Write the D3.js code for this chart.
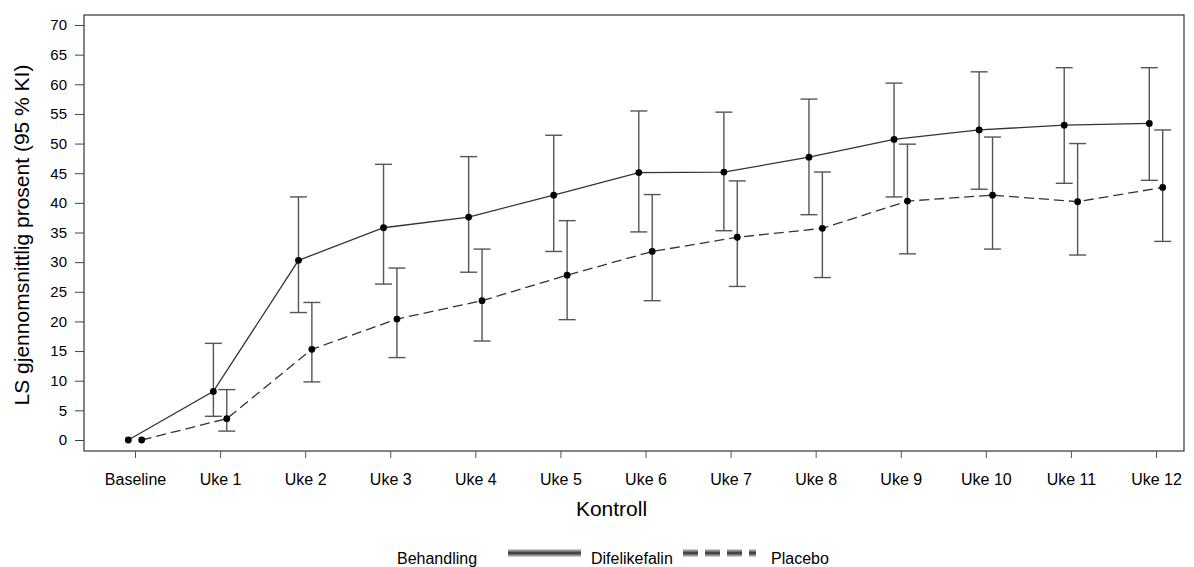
<!DOCTYPE html>
<html>
<head>
<meta charset="utf-8">
<script src="https://cdn.jsdelivr.net/npm/d3@7"></script>
<style>
  body { margin: 0; background: #fff; }
  text { font-family: "Liberation Sans", Arial, sans-serif; fill: #000; }
</style>
</head>
<body>
<svg class="chart"></svg>
<script>
let width = 1194, height = 567;

// visits on x axis
let visits = ["Baseline", "Uke 1", "Uke 2", "Uke 3", "Uke 4", "Uke 5", "Uke 6",
  "Uke 7", "Uke 8", "Uke 9", "Uke 10", "Uke 11", "Uke 12"];
let yTicks = [0, 5, 10, 15, 20, 25, 30, 35, 40, 45, 50, 55, 60, 65, 70];

// Difelikefalin: LS mean with 95 % CI
let difMean = [0, 8.2, 30.3, 35.8, 37.6, 41.3, 45.1, 45.2, 47.7, 50.7, 52.3, 53.1, 53.4];
let difLow  = [null, 4.0, 21.5, 26.3, 28.3, 31.8, 35.1, 35.3, 38.0, 41.0, 42.3, 43.3, 43.8];
let difHigh = [null, 16.3, 41.0, 46.5, 47.8, 51.4, 55.5, 55.3, 57.5, 60.2, 62.1, 62.8, 62.8];

// Placebo
let plaMean = [0, 3.6, 15.3, 20.4, 23.5, 27.8, 31.8, 34.2, 35.7, 40.3, 41.3, 40.2, 42.6];
let plaLow  = [null, 1.5, 9.8, 13.9, 16.7, 20.3, 23.5, 25.9, 27.4, 31.4, 32.2, 31.2, 33.5];
let plaHigh = [null, 8.5, 23.2, 29.0, 32.2, 37.0, 41.4, 43.7, 45.2, 49.9, 51.1, 50.0, 52.3];

let groups = [
  { name: "Difelikefalin", mean: difMean, low: difLow, high: difHigh, shift: -6.7, dash: null },
  { name: "Placebo", mean: plaMean, low: plaLow, high: plaHigh, shift: 6.7, dash: "10,5" }
];

let frame = { left: 84, right: 1184, top: 15, bottom: 451 };

let svg = d3.select(".chart").attr("width", width).attr("height", height);

let x = d3.scalePoint().domain(visits).range([135, 1156]);
let y = d3.scaleLinear().domain([0, 70]).range([440, 25]);

// frame
svg.append("rect")
  .attr("x", frame.left).attr("y", frame.top)
  .attr("width", frame.right - frame.left).attr("height", frame.bottom - frame.top)
  .attr("fill", "none").attr("stroke", "#333").attr("stroke-width", 1.2);

// y axis
let yAxis = svg.append("g")
  .attr("transform", "translate(" + frame.left + ",0)")
  .call(d3.axisLeft(y).tickValues(yTicks).tickSize(9).tickPadding(8));
yAxis.select(".domain").remove();
yAxis.selectAll("line").attr("stroke", "#444");
yAxis.selectAll("text").style("font-size", "15px").style("font-family", "Liberation Sans, Arial, sans-serif");

// x axis
let xAxis = svg.append("g")
  .attr("transform", "translate(0," + frame.bottom + ")")
  .call(d3.axisBottom(x).tickSize(7).tickPadding(16));
xAxis.select(".domain").remove();
xAxis.selectAll("line").attr("stroke", "#555");
xAxis.selectAll("text").style("font-size", "16px").style("font-family", "Liberation Sans, Arial, sans-serif");

// axis titles
svg.append("text")
  .attr("transform", "translate(29,235) rotate(-90)")
  .attr("text-anchor", "middle")
  .style("font-size", "21px")
  .text("LS gjennomsnittlig prosent (95 % KI)");

svg.append("text")
  .attr("x", 611.5).attr("y", 516)
  .attr("text-anchor", "middle")
  .style("font-size", "21px")
  .text("Kontroll");

// series
groups.forEach(g => {
  let pts = visits.map((v, i) => ({ v: v, m: g.mean[i], lo: g.low[i], hi: g.high[i] }));
  let px = d => x(d.v) + g.shift;

  let bars = pts.filter(d => d.lo != null);
  let eb = svg.append("g").attr("stroke", "#555").attr("stroke-width", 1.4);
  eb.selectAll(".v").data(bars).enter().append("line")
    .attr("x1", px).attr("x2", px)
    .attr("y1", d => y(d.lo)).attr("y2", d => y(d.hi));
  eb.selectAll(".lo").data(bars).enter().append("line")
    .attr("x1", d => px(d) - 8.5).attr("x2", d => px(d) + 8.5)
    .attr("y1", d => y(d.lo)).attr("y2", d => y(d.lo));
  eb.selectAll(".hi").data(bars).enter().append("line")
    .attr("x1", d => px(d) - 8.5).attr("x2", d => px(d) + 8.5)
    .attr("y1", d => y(d.hi)).attr("y2", d => y(d.hi));

  svg.append("path")
    .datum(pts)
    .attr("fill", "none")
    .attr("stroke", "#333")
    .attr("stroke-width", 1.3)
    .attr("stroke-dasharray", g.dash)
    .attr("d", d3.line().x(px).y(d => y(d.m)));

  svg.append("g").selectAll("circle").data(pts).enter().append("circle")
    .attr("cx", px).attr("cy", d => y(d.m))
    .attr("r", 3.4).attr("fill", "#000");
});

// legend
let leg = svg.append("g").style("font-size", "16px");
leg.append("text").attr("x", 397).attr("y", 564).text("Behandling");
[[508, 581, null], [683, 756, "15,7"]].forEach(s => {
  leg.append("line").attr("x1", s[0]).attr("x2", s[1]).attr("y1", 553).attr("y2", 553)
    .attr("stroke", "#999").attr("stroke-width", 7).attr("stroke-dasharray", s[2]);
  leg.append("line").attr("x1", s[0]).attr("x2", s[1]).attr("y1", 553).attr("y2", 553)
    .attr("stroke", "#444").attr("stroke-width", 3).attr("stroke-dasharray", s[2]);
});
leg.append("text").attr("x", 591).attr("y", 564).text(groups[0].name);
leg.append("text").attr("x", 771).attr("y", 564).text(groups[1].name);
</script>
</body>
</html>
